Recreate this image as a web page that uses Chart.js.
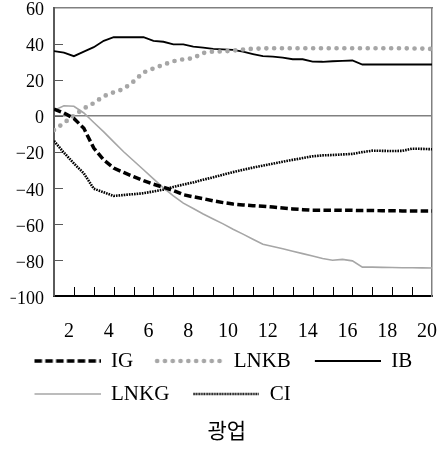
<!DOCTYPE html>
<html>
<head>
<meta charset="utf-8">
<script src="https://cdn.jsdelivr.net/npm/chart.js@4"></script>
<style>
  html, body { margin: 0; padding: 0; background: #fff; }
  #chart { display: block; }
</style>
</head>
<body>
<canvas id="chart" width="443" height="449"></canvas>
<script>
// horizon (x) and the five impulse responses
const xValues = [1, 1.5, 2, 2.5, 3, 3.5, 4, 4.5, 5, 5.5, 6, 6.5, 7, 7.5, 8, 8.5, 9, 9.5, 10, 10.5,
                 11, 11.5, 12, 12.5, 13, 13.5, 14, 14.5, 15, 15.5, 16, 16.5, 17, 17.5, 18, 18.5, 19, 19.5, 20];

const igValues = [3.7, 1.5, -1.5, -7, -18, -24.5, -29, -31.5, -33.8, -36, -38, -39.7, -41.5, -43.8, -45, -46, -47.2, -48.2, -49, -49.5,
                  -49.9, -50.2, -50.7, -51.2, -51.7, -52.1, -52.4, -52.4, -52.4, -52.5, -52.5, -52.6, -52.6, -52.7, -52.7, -52.8, -52.8, -52.9, -52.9];
const lnkbValues = [-8, -4, 0, 4, 7, 10.8, 13, 14.8, 19, 24, 26.2, 28.3, 30.2, 31.3, 31.9, 34.8, 35.6, 35.6, 36.1, 36.7,
                    37.1, 37.3, 37.4, 37.4, 37.4, 37.4, 37.4, 37.4, 37.4, 37.4, 37.4, 37.4, 37.4, 37.4, 37.4, 37.4, 37.3, 37.2, 37];
const ibValues = [35.8, 35, 33, 35.5, 38, 41.5, 43.5, 43.5, 43.5, 43.5, 41.5, 41, 39.6, 39.6, 38.3, 37.8, 37, 36.8, 36.5, 35.5,
                  34.2, 33, 32.8, 32.2, 31.3, 31.3, 30, 29.9, 30.2, 30.4, 30.6, 28.4, 28.4, 28.4, 28.4, 28.4, 28.4, 28.4, 28.4];
const lnkgValues = [3, 5.5, 5.2, 1.5, -3.8, -9, -14.5, -20, -25, -30, -35, -40, -44.5, -48.5, -51.5, -54.5, -57.3, -60, -63, -65.7,
                    -68.5, -71.3, -72.5, -73.8, -75.2, -76.5, -77.8, -79.2, -80.2, -79.7, -80.5, -84, -84, -84.1, -84.2, -84.3, -84.3, -84.4, -84.5];
const ciValues = [-14, -20.5, -26.5, -32, -40.5, -42.5, -44.5, -44, -43.5, -43, -42, -41, -39.5, -38.2, -37, -35.5, -34.2, -32.7, -31.3, -30,
                  -28.8, -27.7, -26.6, -25.5, -24.5, -23.5, -22.5, -22, -21.8, -21.5, -21.2, -20.2, -19.4, -19.5, -19.6, -19.5, -18.3, -18.4, -18.6];

const seriesLabels = ['IG', 'LNKB', 'IB', 'LNKG', 'CI'];
const chartTitle = '광업';

Chart.defaults.font.family = '"Liberation Serif", "DejaVu Serif", serif';
Chart.defaults.color = '#000';

function points(values) {
    return xValues.map((x, i) => ({ x: x, y: values[i] }));
}

// small line sample for the legend, drawn with the dataset's own stroke style
// (12px blank on the left gives the gap after the previous legend text)
function lineSample(ds) {
    const c = document.createElement('canvas');
    c.width = 78;
    c.height = 8;
    const g = c.getContext('2d');
    g.strokeStyle = ds.borderColor;
    g.lineWidth = ds.borderWidth;
    g.lineCap = ds.borderCapStyle || 'butt';
    g.setLineDash(ds.borderDash || []);
    g.beginPath();
    g.moveTo(12, 4);
    g.lineTo(78, 4);
    g.stroke();
    return c;
}

// short tick marks pointing into the plot, like the original
const innerTicks = {
    id: 'innerTicks',
    beforeDatasetsDraw(chart) {
        const { ctx, chartArea, scales } = chart;
        ctx.save();
        ctx.lineWidth = 1;
        ctx.strokeStyle = '#000';
        for (let t of scales.x.ticks) {
            if (t.value <= scales.x.min || t.value >= scales.x.max) continue;
            let px = Math.round(scales.x.getPixelForValue(t.value)) + 0.5;
            ctx.beginPath();
            ctx.moveTo(px, chartArea.bottom);
            ctx.lineTo(px, chartArea.bottom - 9);
            ctx.stroke();
        }
        ctx.strokeStyle = '#5a5a5a';
        for (let t of scales.y.ticks) {
            if (t.value <= scales.y.min || t.value >= scales.y.max) continue;
            let py = Math.round(scales.y.getPixelForValue(t.value)) + 0.5;
            ctx.beginPath();
            ctx.moveTo(chartArea.left, py);
            ctx.lineTo(chartArea.left + 9, py);
            ctx.stroke();
        }
        ctx.restore();
    }
};

const datasets = [
    { label: seriesLabels[0], data: points(igValues), borderColor: '#000', borderWidth: 3.5, borderDash: [7.5, 3.3] },
    { label: seriesLabels[1], data: points(lnkbValues), borderColor: '#a6a6a6', borderWidth: 4.7, borderDash: [0, 7.8], borderCapStyle: 'round' },
    { label: seriesLabels[2], data: points(ibValues), borderColor: '#000', borderWidth: 1.8 },
    { label: seriesLabels[3], data: points(lnkgValues), borderColor: '#a6a6a6', borderWidth: 1.6 },
    { label: seriesLabels[4], data: points(ciValues), borderColor: '#000', borderWidth: 2.6, borderDash: [1.6, 1] }
];
datasets.forEach(ds => {
    ds.pointRadius = 0;
    ds.tension = 0;
    ds.fill = false;
});

new Chart(document.getElementById('chart'), {
    type: 'line',
    data: { datasets: datasets },
    plugins: [innerTicks],
    options: {
        responsive: false,
        animation: false,
        devicePixelRatio: 1,
        layout: { padding: { left: 10.5, right: 0, top: 0, bottom: 0 } },
        scales: {
            x: {
                type: 'linear',
                position: 'bottom',
                min: 1,
                max: 20,
                border: { color: '#000', width: 2 },
                grid: { display: false, drawTicks: false },
                ticks: {
                    stepSize: 1,
                    autoSkip: false,
                    maxRotation: 0,
                    padding: 24,
                    labelOffset: -5,
                    font: { size: 20 },
                    color: '#000',
                    callback: v => (v % 2 === 0 ? String(v) : '')
                },
                afterFit: s => { s.height = 42.5; s.paddingLeft = 0; s.paddingRight = 0; }
            },
            x2: {
                type: 'linear',
                position: 'top',
                border: { color: '#808080', width: 1.5 },
                grid: { display: false, drawTicks: false },
                ticks: { display: false },
                afterFit: s => { s.height = 7.5; s.paddingLeft = 0; s.paddingRight = 0; }
            },
            y: {
                min: -100,
                max: 60,
                border: { color: '#5a5a5a', width: 2 },
                grid: {
                    drawTicks: false,
                    lineWidth: 1.5,
                    color: c => (c.tick && c.tick.value === 0 ? '#808080' : 'rgba(0,0,0,0)')
                },
                ticks: {
                    stepSize: 20,
                    padding: 10,
                    labelOffset: 3,
                    font: { size: 18 },
                    color: '#000',
                    callback: v => String(v).replace('-', '\u2212')
                },
                afterFit: s => { s.width = 43.5; s.paddingTop = 0; s.paddingBottom = 0; }
            },
            y2: {
                position: 'right',
                border: { color: '#808080', width: 1.5 },
                grid: { display: false, drawTicks: false },
                ticks: { display: false },
                afterFit: s => { s.width = 11; s.paddingTop = 0; s.paddingBottom = 0; }
            }
        },
        plugins: {
            tooltip: { enabled: false },
            legend: {
                position: 'bottom',
                align: 'start',
                labels: {
                    usePointStyle: true,
                    pointStyleWidth: 78,
                    padding: 12,
                    color: '#000',
                    font: { size: 21 },
                    generateLabels: chart => chart.data.datasets.map((ds, i) => ({
                        text: ds.label,
                        pointStyle: lineSample(ds),
                        fillStyle: 'rgba(0,0,0,0)',
                        strokeStyle: 'rgba(0,0,0,0)',
                        lineWidth: 0,
                        fontColor: '#000',
                        hidden: false,
                        datasetIndex: i
                    }))
                }
            },
            title: {
                display: true,
                position: 'bottom',
                text: chartTitle,
                color: '#000',
                font: { family: '"Noto Sans CJK KR", sans-serif', size: 21, weight: 'normal' },
                padding: { top: 2.9, bottom: 6.4 }
            }
        }
    }
});
</script>
</body>
</html>
